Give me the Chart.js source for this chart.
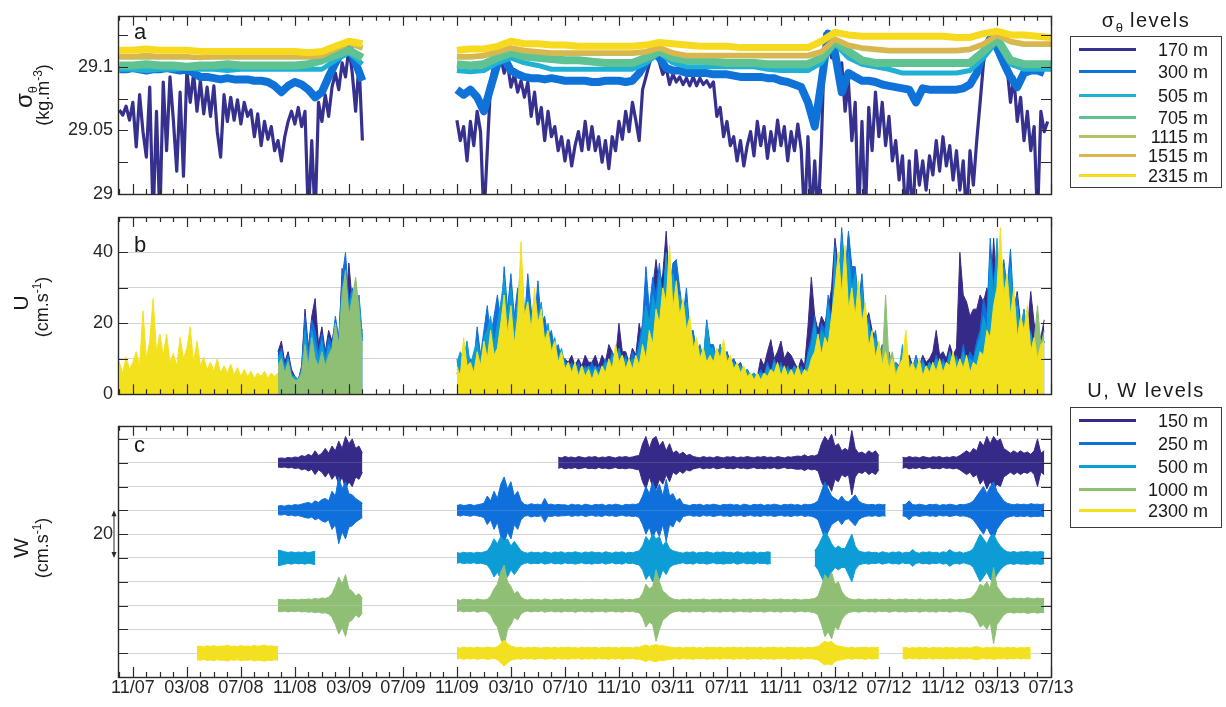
<!DOCTYPE html>
<html>
<head>
<meta charset="utf-8">
<title>Mooring time series</title>
<script src="https://cdn.jsdelivr.net/npm/chart.js@4.4.1/dist/chart.umd.min.js"></script>
<style>
html,body{margin:0;padding:0;background:#fff;}
body{position:relative;width:1226px;height:707px;overflow:hidden;font-family:"Liberation Sans",Arial,Helvetica,sans-serif;color:#1a1a1a;}
.pane{position:absolute;left:0;width:1226px;}
.txt{position:absolute;line-height:1;white-space:nowrap;}
.rot{position:absolute;line-height:1;white-space:nowrap;transform:translate(-50%,-50%) rotate(-90deg);}
.box{position:absolute;border:1px solid #3a3a3a;box-sizing:border-box;}
.ln{position:absolute;left:1079px;width:57px;height:3px;margin-top:-1.5px;}
.lt{position:absolute;right:18px;font-size:18px;line-height:1;transform:translateY(-50%);}
.ttl{position:absolute;font-size:20px;letter-spacing:1.5px;line-height:1;transform:translate(-50%,-50%);white-space:nowrap;}
.sb{font-size:13px;position:relative;top:5px;letter-spacing:0;}
.sp{font-size:12px;position:relative;top:-7px;}
</style>
</head>
<body>
<div class="pane" style="top:0;height:210px"><canvas id="ca"></canvas></div>
<div class="pane" style="top:200px;height:210px"><canvas id="cb"></canvas></div>
<div class="pane" style="top:410px;height:297px"><canvas id="cc"></canvas></div>

<div class="txt" style="left:134px;top:21px;font-size:22px">a</div>
<div class="txt" style="left:134px;top:234px;font-size:22px">b</div>
<div class="txt" style="left:134px;top:434px;font-size:22px">c</div>

<div class="rot" style="left:24px;top:97px;font-size:24px">σ<span class="sb">θ</span></div>
<div class="rot" style="left:43px;top:95px;font-size:18px">(kg.m<span class="sp">-3</span>)</div>
<div class="rot" style="left:20px;top:303px;font-size:21px">U</div>
<div class="rot" style="left:42px;top:307px;font-size:18px">(cm.s<span class="sp">-1</span>)</div>
<div class="rot" style="left:20px;top:548px;font-size:21px">W</div>
<div class="rot" style="left:42px;top:548px;font-size:18px">(cm.s<span class="sp">-1</span>)</div>

<div class="ttl" style="left:1146px;top:20px">σ<span class="sb">θ</span> levels</div>
<div class="box" style="left:1070px;top:36px;width:152px;height:152px"></div>
<div class="ln" style="top:49px;background:#36318f"></div><div class="lt" style="top:50px">170 m</div>
<div class="ln" style="top:71px;background:#0f72d9"></div><div class="lt" style="top:72px">300 m</div>
<div class="ln" style="top:95px;background:#20b0d4"></div><div class="lt" style="top:96px">505 m</div>
<div class="ln" style="top:117px;background:#5ec292"></div><div class="lt" style="top:118px">705 m</div>
<div class="ln" style="top:136px;background:#b5c368"></div><div class="lt" style="top:137px">1115 m</div>
<div class="ln" style="top:155px;background:#dab64e"></div><div class="lt" style="top:156px">1515 m</div>
<div class="ln" style="top:175px;background:#f7da1e"></div><div class="lt" style="top:176px">2315 m</div>

<div class="ttl" style="left:1146px;top:390px">U, W levels</div>
<div class="box" style="left:1070px;top:407px;width:152px;height:121px"></div>
<div class="ln" style="top:420px;background:#352a87"></div><div class="lt" style="top:421px">150 m</div>
<div class="ln" style="top:443px;background:#0f70dc"></div><div class="lt" style="top:444px">250 m</div>
<div class="ln" style="top:466px;background:#0d9dd6"></div><div class="lt" style="top:467px">500 m</div>
<div class="ln" style="top:489px;background:#8fbf75"></div><div class="lt" style="top:490px">1000 m</div>
<div class="ln" style="top:510px;background:#f4e11e"></div><div class="lt" style="top:511px">2300 m</div>

<script>
const N = null;
const T0 = 9;            // first sample time, months since Jan 2007 (Oct 2007)
const XMIN = 8.9, XMAX = 78;

const xTickMonths = [10,14,18,22,26,30,34,38,42,46,50,54,58,62,66,70,74,78];
const xTickLabels = ['11/07','03/08','07/08','11/08','03/09','07/09','11/09','03/10','07/10','11/10','03/11','07/11','11/11','03/12','07/12','11/12','03/13','07/13'];
const yTicksA = [29, 29.025, 29.05, 29.075, 29.1, 29.125];
const yLabelsA = ['29', '', '29.05', '', '29.1', ''];
const yTicksB = [0, 10, 20, 30, 40, 50];
const yLabelsB = ['0', '', '20', '', '40', ''];
const yTicksC = [0, 10, 20, 30, 40, 50, 60, 70, 80, 90, 100];
const yLabelsC = ['', '', '', '', '', '', '20', '', '', '', ''];

// ---- panel a : sigma-theta (kg m-3) ----
// 170 m, every quarter month
const sig170 = [
29.066,29.062,29.069,29.058,29.072,29.037,29.078,29.049,29.029,29.084,
28.98,29.065,28.98,29.088,29.034,29.092,29.058,29.018,29.080,29.014,
29.097,29.072,29.095,29.065,29.089,29.063,29.084,29.061,29.085,29.049,
29.029,29.078,29.057,29.076,29.058,29.074,29.055,29.072,29.061,29.066,
29.045,29.063,29.038,29.057,29.043,29.053,29.034,29.042,29.026,29.045,
29.057,29.065,29.055,29.068,29.053,29.065,28.98,29.042,28.98,29.072,
29.057,29.078,29.061,29.084,29.095,29.082,29.103,29.092,29.115,29.095,
29.065,29.103,29.042,
N,N,N,N,N,N,N,N,N,N, N,N,N,N,N,N,N,N,N,N, N,N,N,N,N,N,N,
29.058,29.042,29.053,29.026,29.057,29.038,29.065,29.049,28.98,29.034,
29.088,29.103,29.111,29.107,29.095,29.102,29.084,29.094,29.080,29.089,
29.076,29.088,29.061,29.080,29.055,29.068,29.042,29.065,29.045,29.053,
29.034,29.045,29.026,29.042,29.022,29.038,29.049,29.034,29.057,29.035,
29.053,29.034,29.045,29.025,29.042,29.020,29.045,29.034,29.057,29.043,
29.065,29.049,29.072,29.058,29.042,29.082,29.092,29.102,29.111,29.117,
29.103,29.094,29.099,29.086,29.094,29.088,29.092,29.086,29.091,29.085,
29.092,29.085,29.091,29.086,29.089,29.084,29.088,29.061,29.068,29.045,
29.057,29.038,29.045,29.026,29.042,29.022,29.038,29.049,29.030,29.057,
29.038,29.053,29.028,29.049,29.034,29.058,29.038,29.053,29.026,29.049,
29.034,29.055,29.035,28.98,29.045,28.98,29.026,28.98,29.042,29.126,
29.122,29.107,29.115,29.092,29.103,29.065,29.088,29.042,29.072,28.98,
29.057,28.98,29.068,29.034,29.080,29.045,29.072,29.038,29.061,29.026,
29.042,29.011,29.030,28.98,29.026,28.98,29.034,29.007,29.026,29.003,
29.030,29.015,29.042,29.018,29.045,29.022,29.038,29.011,29.034,29.003,
29.026,28.98,29.034,29.007,29.042,29.072,29.103,29.118,29.126,29.122,
29.115,29.118,29.107,29.099,29.072,29.092,29.057,29.076,29.042,29.065,
29.034,29.053,28.98,29.065,29.049,29.057,N];

// 300 m, every half month
const sig300 = [
29.098,29.098,29.099,29.098,29.097,29.098,29.098,29.099,29.098,29.097,
29.098,29.095,29.092,29.092,29.091,29.090,29.091,29.090,29.090,29.090,
29.089,29.089,29.088,29.085,29.080,29.085,29.088,29.086,29.082,29.076,
29.080,29.092,29.103,29.112,29.115,29.103,29.089,N,N,N,
N,N,N,N,N,N,N,N,N,N,
29.082,29.078,29.082,29.076,29.065,29.084,29.102,29.107,29.097,29.094,
29.092,29.091,29.091,29.090,29.091,29.090,29.089,29.089,29.089,29.089,
29.088,29.088,29.089,29.089,29.089,29.088,29.089,29.095,29.103,29.112,
29.107,29.099,29.097,29.097,29.095,29.095,29.095,29.095,29.094,29.094,
29.094,29.093,29.092,29.092,29.092,29.092,29.091,29.091,29.089,29.088,
29.086,29.084,29.072,29.053,29.088,29.126,29.111,29.080,29.095,29.092,
29.089,29.089,29.088,29.086,29.085,29.084,29.083,29.082,29.072,29.083,
29.082,29.082,29.082,29.082,29.082,29.083,29.086,29.095,29.111,29.122,
29.115,29.103,29.092,29.084,29.095,29.097,29.097,29.095,N];

// 505 .. 2315 m, monthly
const sig505 = [
29.098,29.098,29.097,29.098,29.098,29.099,29.098,29.098,29.097,29.098,
29.098,29.098,29.098,29.098,29.098,29.098,29.105,29.111,29.102,N,
N,N,N,N,N,29.097,29.096,29.097,29.103,29.107,
29.103,29.101,29.098,29.098,29.098,29.098,29.098,29.098,29.098,29.103,
29.111,29.103,29.100,29.100,29.100,29.100,29.100,29.100,29.098,29.097,
29.097,29.097,29.103,29.118,29.107,29.102,29.100,29.098,29.095,29.095,
29.095,29.095,29.095,29.097,29.107,29.120,29.102,29.098,29.098,29.098];
const sig705 = [
29.101,29.101,29.102,29.101,29.101,29.100,29.101,29.101,29.102,29.101,
29.101,29.101,29.101,29.101,29.102,29.105,29.109,29.113,29.107,N,
N,N,N,N,N,29.102,29.101,29.102,29.107,29.111,
29.108,29.107,29.106,29.105,29.105,29.104,29.103,29.103,29.103,29.107,
29.112,29.107,29.105,29.105,29.104,29.103,29.103,29.103,29.102,29.102,
29.102,29.102,29.107,29.120,29.112,29.105,29.103,29.103,29.103,29.103,
29.103,29.103,29.103,29.103,29.112,29.122,29.105,29.102,29.102,29.102];
const sig1115 = [
29.107,29.107,29.107,29.107,29.107,29.107,29.107,29.107,29.107,29.107,
29.107,29.107,29.107,29.107,29.107,29.108,29.113,29.118,29.114,N,
N,N,N,N,N,29.107,29.107,29.108,29.111,29.114,
29.112,29.111,29.110,29.110,29.110,29.110,29.110,29.110,29.110,29.111,
29.114,29.110,29.108,29.108,29.108,29.108,29.108,29.108,29.108,29.108,
29.108,29.108,29.111,29.121,29.116,29.114,29.113,29.112,29.112,29.112,
29.112,29.112,29.112,29.113,29.117,29.124,29.119,29.117,29.117,29.117];
const sig1515 = [
29.108,29.108,29.109,29.108,29.108,29.108,29.107,29.108,29.108,29.108,
29.108,29.108,29.108,29.108,29.108,29.109,29.114,29.119,29.115,N,
N,N,N,N,N,29.108,29.108,29.109,29.112,29.115,
29.113,29.112,29.111,29.111,29.111,29.111,29.111,29.111,29.111,29.112,
29.115,29.111,29.109,29.109,29.109,29.109,29.109,29.109,29.109,29.109,
29.109,29.109,29.112,29.122,29.117,29.115,29.114,29.113,29.113,29.113,
29.113,29.113,29.113,29.114,29.118,29.125,29.120,29.118,29.118,29.118];
const sig2315 = [
29.113,29.113,29.114,29.113,29.113,29.113,29.112,29.112,29.112,29.112,
29.112,29.112,29.112,29.112,29.111,29.112,29.116,29.120,29.118,N,
N,N,N,N,N,29.113,29.114,29.114,29.116,29.120,
29.118,29.118,29.117,29.117,29.116,29.116,29.116,29.116,29.116,29.117,
29.119,29.118,29.117,29.116,29.116,29.116,29.115,29.115,29.115,29.115,
29.115,29.115,29.120,29.127,29.125,29.124,29.124,29.124,29.124,29.124,
29.124,29.124,29.123,29.123,29.126,29.128,29.125,29.125,29.124,29.123];

// ---- panel b : current speed U (cm/s), every quarter month ----
const u2300 = [
9,6,10.5,7,9,12,8,23.5,10,15, 27,12,17,11,17,9,11.5,8,16,10,
13,19,9,15,8,10.5,7,9,6.5,10, 6,8,6,8.5,5.5,7.5,5,7,5,6.5,
4.5,6,5,6.5,4.5,6,5,6,
N,N,N,N,N,N,N,N,N,N, N,N,N,N,N,N,N,N,N,N, N,N,N,N,N,N,N,N,N,N,
N,N,N,N,N,N,N,N,N,N, N,N,N,N,N,N,N,N,N,N, N,N,
8,5,16,8,9,6,12,8,15,10,
18,11,13,20,28,17,25,14,22,43,
22,26,18,30,20,24,15,18,12,15,
9,12,7,9,6,9,5,8,5,7,
4,7,5,8,6,10,7,14,9,11,
7,10,7,11,8,14,10,18,14,24,
20,30,26,42,24,32,22,27,18,22,
13,16,10,13,9,11,9,13,10,15.5,
9,11,7,9,6,8,5,6,4,6,
4,6,5,7,6,9,5,8,5,7,
5,8,5,7,6,10,12,17,11,16,
14,22,30,40,28,42,24,30,22,32,
20,26,13,18,10,15,8,12,7,10,
5,8,10,18,7,9,6,10,5,8,
6,9,6,10,6,9,8,12,7,10,
7,11,6,9,8,12,11,18,16,25,
30,47,28,34,22,30,16,22,18,25,
12,16,10,14,15,N,N];
const u1000 = [
N,N,N,N,N,N,N,N,N,N, N,N,N,N,N,N,N,N,N,N, N,N,N,N,N,N,N,N,N,N, N,N,N,N,N,N,N,N,N,N, N,N,N,N,N,N,N,
8,10,6,9,5,4,4,6,14,8, 16,10,8,12,8,11,13,20,14,28, 35,22,27,33,24,12,
N,N,N,N,N,N,N,N,N,N, N,N,N,N,N,N,N,N,N,N, N,N,N,N,N,N,N,
7,5,12,7,8,6,10,8,13,9,
15,10,12,16,24,15,22,14,20,30,
20,24,16,20,14,18,12,16,10,13,
8,10,6,8,5,8,5,6,4,6,
4,6,4,6,5,7,7,9,8,11,
7,9,6,8,7,10,9,12,14,20,
18,28,22,33,20,28,18,24,15,20,
10,13,8,11,8,10,9,12,9,13,
8,10,6,8,5,7,4,6,4,5,
4,5,5,6,6,8,5,7,4,6,
5,7,4,6,7,9,11,15,11,15,
14,20,24,33,26,38,20,28,20,28,
18,24,12,16,10,14,9,28,9,12,
6,8,9,12,6,8,7,9,5,7,
6,8,7,9,6,8,8,10,7,9,
8,10,6,8,8,10,11,15,16,22,
24,35,22,30,18,26,14,20,16,22,
11,15,25,14,18,N,N];
const u500 = [
N,N,N,N,N,N,N,N,N,N, N,N,N,N,N,N,N,N,N,N, N,N,N,N,N,N,N,N,N,N, N,N,N,N,N,N,N,N,N,N, N,N,N,N,N,N,N,
10,12,7,10,5,5,4,7,18,10, 18,14,10,15,9,14,12,20,14,30, 33,24,29,20,27,15,
N,N,N,N,N,N,N,N,N,N, N,N,N,N,N,N,N,N,N,N, N,N,N,N,N,N,N,
9,12,10,15,8,12,15,10,16,18,
22,14,20,26,33,22,30,20,26,38,
24,27,20,28,22,26,16,20,13,16,
10,13,8,9,7,9,6,8,7,8,
6,8,6,7,9,7,11,8,13,9,
10,8,10,9,13,18,25,20,28,24,
34,26,40,30,34,28,28,22,26,16,
16,12,13,10,20,13,13,9,14,9,
11,7,9,6,8,6,7,5,6,5,
6,5,8,6,9,7,8,6,7,6,
8,6,7,6,11,14,20,12,18,16,
25,18,40,28,44,30,40,30,34,24,
30,18,20,13,16,10,13,8,11,8,
9,7,14,8,9,7,10,7,9,7,
9,7,10,7,9,7,12,8,10,8,
12,8,10,9,13,16,22,18,38,28,
44,30,36,28,36,22,25,17,24,15,
17,12,15,11,15,N,N];
const u250 = [
N,N,N,N,N,N,N,N,N,N, N,N,N,N,N,N,N,N,N,N, N,N,N,N,N,N,N,N,N,N, N,N,N,N,N,N,N,N,N,N, N,N,N,N,N,N,N,
11,13,8,11,6,5,4,7,22,12, 21,18,12,17,11,16,14,22,16,33, 40,26,30,22,28,16,
N,N,N,N,N,N,N,N,N,N, N,N,N,N,N,N,N,N,N,N, N,N,N,N,N,N,N,
10,6,14,8,10,9,19,11,18,25,
16,22,28,20,36,24,34,22,30,26,
20,34,24,20,32,20,22,16,18,12,
14,10,10,7,9,7,9,6,8,6,
9,6,8,7,10,8,12,9,12,8,
11,8,12,10,15,20,36,24,33,28,
37,26,38,30,37,38,30,22,30,18,
18,12,14,10,21,14,14,10,13,9,
12,8,10,7,9,6,7,5,6,5,
7,5,9,6,10,7,9,6,8,6,
8,6,8,6,12,16,22,14,20,18,
28,20,42,30,47,34,46,36,36,26,
34,20,22,14,18,11,14,9,12,8,
9,7,11,8,10,7,11,8,10,7,
9,7,11,8,10,8,12,9,11,8,
14,9,12,10,15,18,27,22,44,30,
40,32,38,30,41,24,28,18,24,16,
18,12,16,12,15,N,N];
const u150 = [
N,N,N,N,N,N,N,N,N,N, N,N,N,N,N,N,N,N,N,N, N,N,N,N,N,N,N,N,N,N, N,N,N,N,N,N,N,N,N,N, N,N,N,N,N,N,N,
12,15,9,12,7,5,4,8,24,13, 22,27,14,19,12,18,15,20,14,35.5, 22,37,26,32,20,18,
N,N,N,N,N,N,N,N,N,N, N,N,N,N,N,N,N,N,N,N, N,N,N,N,N,N,N,
6,4,10,6,8,7,12,8,14,10,
18,12,16,14,22,16,24,15,20,18,
25,16,22,18,20,14,16,12,14,10,
11,8,10,9,11,8,10,8,11,9,
9,11,8,11,9,14,12,10,20,12,
12,9,13,11,20,15,24,20,30,38,
30,34,46,30,32,24,28,20,22,14,
16,11,12,10,14,11,13,10,14,10,
12,9,10,8,9,6,7,5,6,5,
10,8,12,15.4,10,12,15,10,12,11,
9,7,10,8,19,33,22,18,22,20,
24,30,44,36,40,30,45,34,30,24,
28,20,23,18,16,12,12,9,10,8,
9,8,10,9,11,8,10,8,11,9,
10,12,18,11,12,10,14,11,13,40,
28,26,22,24,24,28,26,30,25,44,
30,30,26,28,22,24,29,20,22,18,
29,20,18,16,21,N,N];

// ---- panel c : vertical velocity W, half-width of the signal (cm/s), every quarter month ----
const wOffsets = [90, 70, 50, 30, 10];   // trace offsets for 150, 250, 500, 1000, 2300 m
const w150Amp = [
N,N,N,N,N,N,N,N,N,N, N,N,N,N,N,N,N,N,N,N, N,N,N,N,N,N,N,N,N,N, N,N,N,N,N,N,N,N,N,N, N,N,N,N,N,N,N,
1.8,2,1.8,2.2,2,2.4,2.2,3,2.6,3.5, 2.8,5,3,4,6,4,7,5,9,6, 11,8,10,6,7,4,
N,N,N,N,N,N,N,N,N,N, N,N,N,N,N,N,N,N,N,N, N,N,N,N,N,N,N,N,N,N, N,N,N,N,N,N,N,N,N,N, N,N,N,N,N,N,N,N,N,N, N,N,N,N,N,N,N,
2.3,2,2.6,2.2,2.4,2,2.6,2.3,2,2.5, 2.3,2.6,2,2.4,2.2,2.6,2.3,2,2.5,2.3, 2.6,2.2,2.4,2.8,3,
8,11,6,10,11,7,9,5,8,4, 5,3.5,4.5,3,3.5,2.6,
2.3,2,2.6,2.2,2.4,2,2.6,2.3,2,2.5, 2.3,2.6,2,2.4,2.2,2.6,2.3,2,2.5,2.3, 2.6,2.2,2.4,2,2.6,2.3,2,2.5,2.3,2.6,2.8,
2.6,3.3,2.5,3,2.8,3.5,
8,11,9,12,7,8,5,6,5,13.5,6,4,4.5,3.5,5,4,5,3,
N,N,N,N,N,N,
2.3,2,2.6,2.2,2.4,2,2.6,2.3,2,2.5, 2.3,2.6,2,2.4,2.2,2.6,2.3,3,
4,5,4,6,5,9,7,11,8,11, 9,10,6,5,4,5,4,5,4,4.5, 3.5,5,10,4,5,
N,N];
const w250Amp = [
N,N,N,N,N,N,N,N,N,N, N,N,N,N,N,N,N,N,N,N, N,N,N,N,N,N,N,N,N,N, N,N,N,N,N,N,N,N,N,N, N,N,N,N,N,N,N,
1.8,2,1.7,2.2,2,2.4,2.2,2.6,3,3.3, 2.8,4,3.3,4.5,5,4,8,6,14,9, 12,7,6.5,5,4,3,
N,N,N,N,N,N,N,N,N,N, N,N,N,N,N,N,N,N,N,N, N,N,N,N,N,N,N,
2,2.4,2,2.2,2.5,2,2.3,2.6,
3,6,4,8,5,11,14,9,12,6,8,4,
2.5,2.2,2.8,2.4,2.6,2.2,5,2.4,2.6,2.2,2.5,2.3,
2.3,2,2.6,2.2,2.4,2,2.6,2.3,2,2.5, 2.3,2.6,2,2.4,2.2,2.6,2.3,2,2.5,2.3, 2.6,2.4,3,
6,10,7,12,8,11,6,13,6,7,4,5,
2.6,2.3,2,2.5,2.3,2.6,2,2.4,2.2,2.6, 2.3,2,2.5,2.3,2.6,2.2,2.4,2,2.6,2.3, 2,2.5,2.3,2.6,2,2.4,2.2,2.6,2.3,2, 2.5,2.3,2.6,2.2,2.4,2,2.6,2.3,2.5,
3,4,8,12,9,6,5,4,6,4,3.5,5,6.5,4,3,
2.6,2.3,2.5,2.2,2.6,2.3,2.4,
N,N,N,N,
2.3,2.6,4,2.4,2.2,2.6,2.3,2,2.5,2.3, 2.6,2,2.4,2.2,2.6,2.3,2,2.5,2.3,2.6,3,
4,6,8,10,7,10,12,8,6,4,
3,2.6,2.3,2.7,2.4,2.6,2.3,2.8,2.5,2.6,2.4,2.7,
N,N];
const w500Amp = [
N,N,N,N,N,N,N,N,N,N, N,N,N,N,N,N,N,N,N,N, N,N,N,N,N,N,N,N,N,N, N,N,N,N,N,N,N,N,N,N, N,N,N,N,N,N,N,
3.3,3,2.6,2.3,2.6,2.2,2.5,2.3,2.6,2.2,2.5,2.8,
N,N,N,N,N,N,N,N,N,N, N,N,N,N,N,N,N,N,N,N, N,N,N,N,N,N,N,N,N,N, N,N,N,N,N,N,N,N,N,N, N,
2.2,2,2.4,2.1,2.3,2,2.4,2.2,2.5,
3,5,8,6,9,7,8,5,7,5,3,
2.3,2,2.5,2.2,2.4,2,2.6,2.3,2,2.5, 2.3,2.6,2,2.4,2.2,2.6,2.3,2,2.5,2.3, 2.6,2.2,2.4,2,2.6,2.3,2,2.5,2.3,2.6, 2,2.4,2.2,2.6,3,
5,9,7,10,8,9,5,7,4,
3,2.6,2.3,2,2.5,2.3,2.6,2,2.4,2.2, 2.6,2.3,2,2.5,2.3,2.6,2.2,2.4,2,2.6, 2.3,2,2.5,2.3,2.6,2,2.4,2.2,2.6,2.3,
N,N,N,N,N,N,N,N,N,N,N,N,
3,5,8,11,9,6,4,5,4,4,7,10,5,3,
2.5,2.3,2.6,2.2,2.4,2,2.6,2.3,2,2.5, 2.3,2.6,2,2.4,2.2,3.5,2.3,2,2.5,2.3, 2.6,2.2,2.4,2,2.6,2.3,3.5,2.5,2.3,2.6, 2,2.4,2.8,
4,7,10,8,6,9,10,7,5,3.5,
2.6,2.4,2.7,2.3,2.6,2.5,2.8,2.4,2.6,2.5,2.7,2.4,
N,N];
const w1000Amp = [
N,N,N,N,N,N,N,N,N,N, N,N,N,N,N,N,N,N,N,N, N,N,N,N,N,N,N,N,N,N, N,N,N,N,N,N,N,N,N,N, N,N,N,N,N,N,N,
2.5,2.6,2.3,2.7,2.4,2.6,2.3,2.7,2.5,2.8, 2.6,3,2.7,3.2,3,3.5,5,8,12,9, 13,7,6,4,5,3,
N,N,N,N,N,N,N,N,N,N, N,N,N,N,N,N,N,N,N,N, N,N,N,N,N,N,N,
2.5,2.2,2.7,2.4,2.6,2.2,2.8,2.5,2.3,2.7,
4,7,9,14,17,10,8,5,6,3.5,
2.6,2.3,2.7,2.4,2.6,2.2,2.8,2.5,2.3,2.7, 2.5,2.8,2.3,2.6,2.4,2.8,2.5,2.3,2.7,2.5, 2.8,2.4,2.6,2.3,2.8,2.5,2.3,2.7,2.5,2.8, 2.3,2.6,2.4,2.8,3,
5,9,7,8,15,10,6,5,3.5,
2.8,2.5,2.3,2.7,2.5,2.8,2.3,2.6,2.4,2.8, 2.5,2.3,2.7,2.5,2.8,2.4,2.6,2.3,2.8,2.5, 2.3,2.7,2.5,2.8,2.3,2.6,2.4,2.8,2.5,2.3, 2.7,2.5,2.8,2.4,2.6,2.3,2.8,2.5,2.3,2.7, 2.5,2.8,3,
4,8,13,11,14,9,10,6,4,3,
2.6,2.4,2.8,2.5,2.3,2.7,2.5,2.8,2.3,2.6, 2.4,2.8,2.5,2.3,2.7,2.5,2.8,2.4,2.6,2.3, 2.8,2.5,2.3,2.7,2.5,2.8,2.3,2.6,2.4,2.8, 2.5,2.3,2.7,2.5,2.8,3,
4,6,9,8,10,7,16,8,6,4,
3,2.8,3.2,2.9,3.1,2.8,3.3,3,2.8,3.2,2.9,3,
N,N];
const w2300Amp = [
N,N,N,N,N,N,N,N,N,N, N,N,N,N,N,N,N,N,N,N, N,N,N,
2.8,3,2.6,3.1,2.8,3.2,2.7,3,2.9,3.3, 2.8,3,2.7,3.2,2.9,3,2.8,3.3,2.9,3.1, 3.4,2.9,3.1,2.8,3,
N,N,N,N,N,N,N,N,N,N, N,N,N,N,N,N,N,N,N,N, N,N,N,N,N,N,N,N,N,N, N,N,N,N,N,N,N,N,N,N, N,N,N,N,N,N,N,N,N,N, N,N,
2.4,2.1,2.6,2.2,2.5,2.1,2.6,2.3,2.2,2.6,2.4,2.2,2.8,
4,5.5,4,3,2.6,
2.3,2.6,2.1,2.5,2.2,2.6,2.3,2.1,2.5,2.4, 2.2,2.6,2.1,2.5,2.3,2.6,2.2,2.4,2.1,2.6, 2.3,2.5,2.2,2.6,2.1,2.4,2.3,2.6,2.2,2.5, 2.1,2.6,2.3,2.4,2.2,2.6,2.5,
3,3.5,2.8,3.3,3.6,3,3.2,2.8,2.6,
2.4,2.2,2.6,2.1,2.5,2.3,2.6,2.2,2.4,2.1, 2.6,2.3,2.5,2.2,2.6,2.1,2.4,2.3,2.6,2.2, 2.5,2.1,2.6,2.3,2.4,2.2,2.6,2.1,2.5,2.3, 2.6,2.2,2.4,2.1,2.6,2.3,2.5,2.2,2.6,2.1, 2.4,2.3,2.6,2.8,
4,5,4.5,5,3.5,3,2.8,
2.5,2.2,2.6,2.1,2.4,2.3,2.6,2.2,2.5,2.3,2.4,
N,N,N,N,N,N,
2.2,2.5,2,2.4,2.1,2.5,2.2,2.4,2,2.5, 2.2,2.4,2.1,2.5,2.2,2.4,2,2.5,2.2,2.4, 2.1,2.6,2.8,2.4,2.1,2.5,2.2,2.6,2.3,2.4, 2.1,2.5,2.2,2.4,2,2.5,2.2,2.4,2.3,
N,N,N,N,N,N];

// ---------- drawing ----------
Chart.defaults.font.family = '"Liberation Sans", Arial, Helvetica, sans-serif';
Chart.defaults.font.size = 18;
Chart.defaults.color = '#262626';

function series(vals, step, map) {
  return vals.map((v, i) => ({ x: T0 + i * step, y: v === null ? null : (map ? map(v) : v) }));
}
function ds(data, color, width, order, fill) {
  return { data, borderColor: color, backgroundColor: color, borderWidth: width, pointRadius: 0,
           tension: 0, fill: fill === undefined ? false : fill, clip: 0, order, spanGaps: false,
           borderJoinStyle: 'round', borderCapStyle: 'butt' };
}

const framePlugin = {
  id: 'frame',
  afterDatasetsDraw(chart, args, opts) {
    const { ctx, chartArea: a } = chart;
    const x = chart.scales.x, y = chart.scales.y;
    ctx.save();
    ctx.strokeStyle = '#2a2a2a';
    ctx.lineWidth = 1.2;
    ctx.beginPath();
    for (let m = 9; m <= 78; m++) {
      const px = Math.round(x.getPixelForValue(m)) + 0.5;
      const L = xTickMonths.includes(m) ? 10 : 5;
      ctx.moveTo(px, a.bottom); ctx.lineTo(px, a.bottom - L);
      ctx.moveTo(px, a.top); ctx.lineTo(px, a.top + L);
    }
    for (const v of opts.yTicks) {
      const py = Math.round(y.getPixelForValue(v)) + 0.5;
      ctx.moveTo(a.left, py); ctx.lineTo(a.left + 10, py);
      ctx.moveTo(a.right, py); ctx.lineTo(a.right - 10, py);
    }
    ctx.stroke();
    ctx.lineWidth = 1.4;
    ctx.strokeRect(Math.round(a.left) + 0.5, Math.round(a.top) + 0.5, Math.round(a.right - a.left), Math.round(a.bottom - a.top));
    if (opts.arrow) {
      const xa = a.left - 4;
      const y1 = y.getPixelForValue(opts.arrow[0]), y2 = y.getPixelForValue(opts.arrow[1]);
      ctx.lineWidth = 1;
      ctx.fillStyle = '#2a2a2a';
      ctx.beginPath(); ctx.moveTo(xa, y1 - 4); ctx.lineTo(xa, y2 + 4); ctx.stroke();
      ctx.beginPath(); ctx.moveTo(xa, y2); ctx.lineTo(xa - 2.5, y2 + 6); ctx.lineTo(xa + 2.5, y2 + 6); ctx.closePath(); ctx.fill();
      ctx.beginPath(); ctx.moveTo(xa, y1); ctx.lineTo(xa - 2.5, y1 - 6); ctx.lineTo(xa + 2.5, y1 - 6); ctx.closePath(); ctx.fill();
    }
    ctx.restore();
  }
};

function yScale(min, max, ticks, labels, grid) {
  return {
    type: 'linear', min, max,
    afterFit: s => { s.width = 118; },
    afterBuildTicks: s => { s.ticks = ticks.map(v => ({ value: v })); },
    ticks: { callback: (v, i) => labels[i], padding: 5, color: '#262626', font: { size: 18 } },
    grid: { display: grid, drawTicks: false, color: '#d4d4d4', lineWidth: 1 },
    border: { display: false }
  };
}
function baseOpts(padding, yS, xS, frameOpts) {
  return {
    responsive: true, maintainAspectRatio: false, animation: false, events: [],
    devicePixelRatio: 1,
    layout: { padding },
    plugins: { legend: { display: false }, tooltip: { enabled: false }, frame: frameOpts },
    scales: { x: xS, y: yS }
  };
}
const hiddenX = { type: 'linear', min: XMIN, max: XMAX, display: false };

// panel a (back to front)
const sigSet = [
  [sig170, 0.25, '#36318f', 3.2],
  [sig300, 0.5, '#0f72d9', 8],
  [sig505, 1, '#20b0d4', 5],
  [sig705, 1, '#5ec292', 8],
  [sig1115, 1, '#b5c368', 4],
  [sig1515, 1, '#dab64e', 5],
  [sig2315, 1, '#f7da1e', 7]
];
new Chart(document.getElementById('ca'), {
  type: 'line',
  data: { datasets: sigSet.map((s, i) => ds(series(s[0], s[1]), s[2], s[3], sigSet.length - i)) },
  options: baseOpts({ top: 13, bottom: 16, left: 0, right: 175 },
    yScale(29, 29.14, yTicksA, yLabelsA, false), hiddenX, { yTicks: yTicksA }),
  plugins: [framePlugin]
});

// panel b (back to front)
const uSet = [
  [u150, '#352a87'], [u250, '#0f70dc'], [u500, '#0d9dd6'], [u1000, '#8fbf75'], [u2300, '#f4e11e']
];
new Chart(document.getElementById('cb'), {
  type: 'line',
  data: { datasets: uSet.map((s, i) => ds(series(s[0], 0.25), s[1], 1, uSet.length - i, 'origin')) },
  options: baseOpts({ top: 17, bottom: 11, left: 0, right: 175 },
    yScale(0, 50, yTicksB, yLabelsB, true), hiddenX, { yTicks: yTicksB }),
  plugins: [framePlugin]
});

// panel c (back to front)
const wSet = [
  [w150Amp, '#352a87', wOffsets[0]], [w250Amp, '#0f70dc', wOffsets[1]], [w500Amp, '#0d9dd6', wOffsets[2]],
  [w1000Amp, '#8fbf75', wOffsets[3]], [w2300Amp, '#f4e11e', wOffsets[4]]
];
const wDatasets = [];
wSet.forEach((s, i) => {
  const c = s[2];
  wDatasets.push(ds(series(s[0], 0.25, a => c + a), s[1], 1, 2 * (wSet.length - i), { value: c }));
  wDatasets.push(ds(series(s[0], 0.25, a => c - a), s[1], 1, 2 * (wSet.length - i), { value: c }));
});
new Chart(document.getElementById('cc'), {
  type: 'line',
  data: { datasets: wDatasets },
  options: baseOpts({ top: 10, bottom: 0, left: 0, right: 175 },
    yScale(0, 105.5, yTicksC, yLabelsC, true),
    {
      type: 'linear', min: XMIN, max: XMAX,
      afterFit: s => { s.height = 30; },
      afterBuildTicks: s => { s.ticks = xTickMonths.map(v => ({ value: v })); },
      ticks: { callback: (v, i) => xTickLabels[i], autoSkip: false, maxRotation: 0, padding: 0, color: '#262626', font: { size: 18 } },
      grid: { display: false, drawTicks: false },
      border: { display: false }
    },
    { yTicks: yTicksC, arrow: [50, 70] }),
  plugins: [framePlugin]
});
</script>
</body>
</html>
